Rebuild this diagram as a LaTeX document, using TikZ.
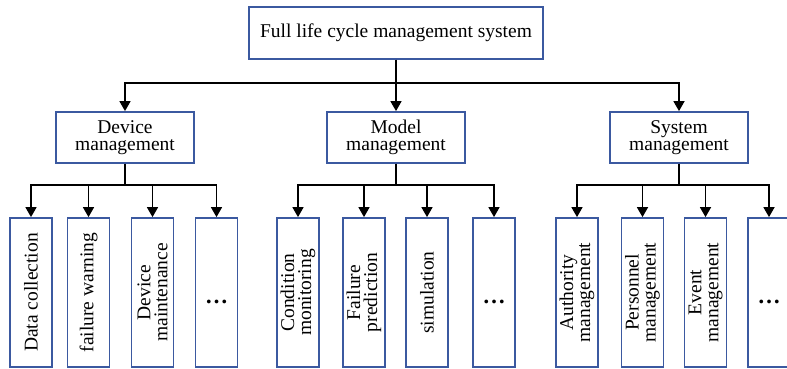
\documentclass[tikz,border=0pt]{standalone}
\usepackage{fontspec}
\setmainfont{Liberation Serif}
\usetikzlibrary{arrows.meta}
\definecolor{boxblue}{RGB}{59,89,160}
\tikzset{
  base/.style={draw=boxblue, line width=1.8pt, fill=white, inner sep=0pt, align=center,
    font=\fontsize{19.5}{17}\selectfont},
  topbox/.style={base, minimum width=294pt, minimum height=52pt},
  midbox/.style={base, minimum width=138pt, minimum height=51pt},
  leaf/.style={base, minimum width=42pt, minimum height=149pt},
  vtext/.style={rotate=90, align=center, inner sep=0pt, font=\fontsize{19.5}{17}\selectfont},
  dots/.style={inner sep=0pt, font=\fontsize{23}{23}\selectfont\bfseries},
  arr/.style={line width=1.6pt, -{Triangle[length=10pt,width=11pt]}},
  ln/.style={line width=1.6pt}
}
\begin{document}
\begin{tikzpicture}[x=1pt,y=-1pt]
\clip (0,0) rectangle (787,368);
\fill[white] (0,0) rectangle (787,368);

\node[topbox] (top) at (396,33) {Full life cycle management system};
\node[midbox] (dev) at (125,137.5) {Device\\management};
\node[midbox] (mod) at (396,137.5) {Model\\management};
\node[midbox] (sys) at (679,137.5) {System\\management};

% device leaves
\node[leaf] (d1) at (31,292.5) {};
\node[leaf] (d2) at (88.5,292.5) {};
\node[leaf] (d3) at (152.5,292.5) {};
\node[leaf] (d4) at (216.5,292.5) {};
\node[vtext] at (d1) {Data collection};
\node[vtext] at (d2) {failure warning};
\node[vtext] at (d3) {Device\\maintenance};
\node[dots] at ([yshift=-9.5pt]d4.center) {…};

% model leaves
\node[leaf] (m1) at (298,292.5) {};
\node[leaf] (m2) at (364,292.5) {};
\node[leaf] (m3) at (427,292.5) {};
\node[leaf] (m4) at (494,292.5) {};
\node[vtext] at (m1) {Condition\\monitoring};
\node[vtext] at (m2) {Failure\\prediction};
\node[vtext] at (m3) {simulation};
\node[dots] at ([yshift=-9.5pt]m4.center) {…};

% system leaves
\node[leaf] (s1) at (577,292.5) {};
\node[leaf] (s2) at (642.5,292.5) {};
\node[leaf] (s3) at (705.5,292.5) {};
\node[leaf] (s4) at (769,292.5) {};
\node[vtext] at (s1) {Authority\\management};
\node[vtext] at (s2) {Personnel\\management};
\node[vtext] at (s3) {Event\\management};
\node[dots] at ([yshift=-9.5pt]s4.center) {…};

% connectors level 1
\draw[arr] (top.south) -- +(0,23) -| (dev.north);
\draw[arr] (top.south) -- (mod.north);
\draw[arr] (top.south) -- +(0,23) -| (sys.north);

% connectors level 2
\foreach \p/\c in {dev/d1,dev/d2,dev/d3,dev/d4,mod/m1,mod/m2,mod/m3,mod/m4,sys/s1,sys/s2,sys/s3,sys/s4}{
  \draw[arr] (\p.south) -- +(0,21) -| (\c.north);
}
\end{tikzpicture}
\end{document}
